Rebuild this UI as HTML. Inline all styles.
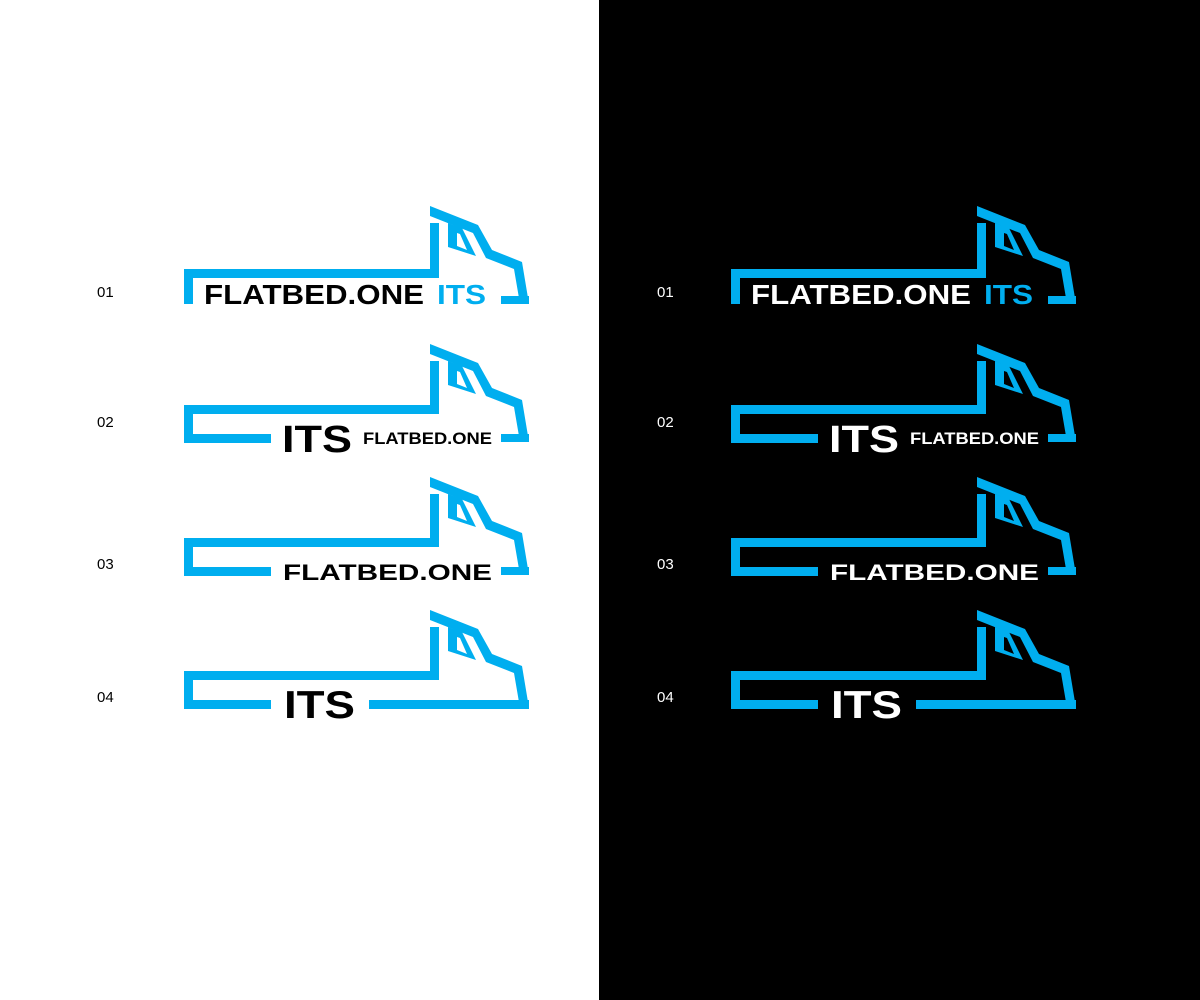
<!DOCTYPE html>
<html><head><meta charset="utf-8"><style>
html,body{margin:0;padding:0;background:#fff;}
svg{display:block;}
</style></head><body>
<svg width="1200" height="1000" viewBox="0 0 1200 1000" xmlns="http://www.w3.org/2000/svg" font-family="Liberation Sans, sans-serif">
<defs>
  <g id="cabtop" fill="#00aeef">
    <polygon points="246,0 294,19 308,44 338,56 345,98 336,98 330,63 302,52 289,27 246,10"/>
    <path fill-rule="evenodd" d="M264,17 L278,22 L292,50 L264,41 Z M273,27 L276,28 L283,44 L273,40 Z"/>
    <rect x="317" y="90" width="28" height="8"/>
  </g>
  <g id="loop1" fill="#00aeef">
    <use href="#cabtop"/>
    <rect x="246" y="17" width="9" height="55"/>
    <rect x="0" y="63" width="255" height="9"/>
    <rect x="0" y="63" width="9" height="35"/>
  </g>
  <g id="loopA" fill="#00aeef">
    <use href="#cabtop"/>
    <rect x="246" y="17" width="9" height="53"/>
    <rect x="0" y="61" width="255" height="9"/>
    <rect x="0" y="61" width="9" height="38"/>
    <rect x="0" y="90" width="87" height="9"/>
  </g>
</defs>

<rect x="599" y="0" width="601" height="1000" fill="#000"/>

<g font-size="15" fill="#000">
  <text x="97" y="297">01</text><text x="97" y="427">02</text><text x="97" y="569">03</text><text x="97" y="702">04</text>
</g>
<g font-size="15" fill="#fff">
  <text x="657" y="297">01</text><text x="657" y="427">02</text><text x="657" y="569">03</text><text x="657" y="702">04</text>
</g>

<!-- LEFT logos -->
<g transform="translate(184,206)"><use href="#loop1"/></g>
<text x="204" y="304" font-size="28" font-weight="bold" textLength="220" lengthAdjust="spacingAndGlyphs" fill="#000">FLATBED.ONE</text>
<text x="437" y="304" font-size="28" font-weight="bold" textLength="49" lengthAdjust="spacingAndGlyphs" fill="#00aeef">ITS</text>

<g transform="translate(184,344)"><use href="#loopA"/></g>
<text x="282" y="452" font-size="38" font-weight="bold" textLength="70" lengthAdjust="spacingAndGlyphs" fill="#000">ITS</text>
<text x="363" y="444" font-size="17" font-weight="bold" textLength="129" lengthAdjust="spacingAndGlyphs" fill="#000">FLATBED.ONE</text>

<g transform="translate(184,477)"><use href="#loopA"/></g>
<text x="283" y="580" font-size="22.5" font-weight="bold" textLength="209" lengthAdjust="spacingAndGlyphs" fill="#000">FLATBED.ONE</text>

<g transform="translate(184,610)">
  <use href="#loopA"/>
  <rect x="185" y="90" width="160" height="9" fill="#00aeef"/>
</g>
<text x="284" y="718" font-size="39" font-weight="bold" textLength="71" lengthAdjust="spacingAndGlyphs" fill="#000">ITS</text>

<!-- RIGHT logos -->
<g transform="translate(731,206)"><use href="#loop1"/></g>
<text x="751" y="304" font-size="28" font-weight="bold" textLength="220" lengthAdjust="spacingAndGlyphs" fill="#fff">FLATBED.ONE</text>
<text x="984" y="304" font-size="28" font-weight="bold" textLength="49" lengthAdjust="spacingAndGlyphs" fill="#00aeef">ITS</text>

<g transform="translate(731,344)"><use href="#loopA"/></g>
<text x="829" y="452" font-size="38" font-weight="bold" textLength="70" lengthAdjust="spacingAndGlyphs" fill="#fff">ITS</text>
<text x="910" y="444" font-size="17" font-weight="bold" textLength="129" lengthAdjust="spacingAndGlyphs" fill="#fff">FLATBED.ONE</text>

<g transform="translate(731,477)"><use href="#loopA"/></g>
<text x="830" y="580" font-size="22.5" font-weight="bold" textLength="209" lengthAdjust="spacingAndGlyphs" fill="#fff">FLATBED.ONE</text>

<g transform="translate(731,610)">
  <use href="#loopA"/>
  <rect x="185" y="90" width="160" height="9" fill="#00aeef"/>
</g>
<text x="831" y="718" font-size="39" font-weight="bold" textLength="71" lengthAdjust="spacingAndGlyphs" fill="#fff">ITS</text>
</svg>
</body></html>
